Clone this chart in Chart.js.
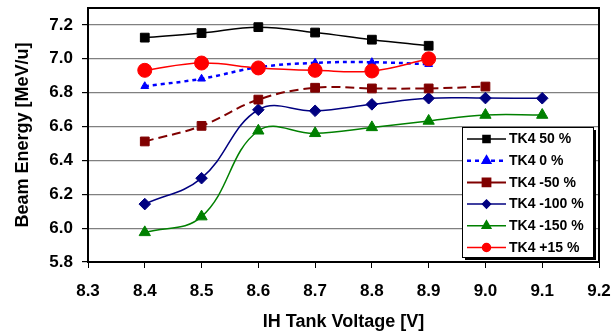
<!DOCTYPE html>
<html>
<head>
<meta charset="utf-8">
<script src="https://cdn.jsdelivr.net/npm/chart.js@4/dist/chart.umd.min.js"></script>
<style>
html,body{margin:0;padding:0;background:#fff;}
#wrap{width:613px;height:335px;position:relative;}
</style>
</head>
<body>
<div id="wrap"><canvas id="c" width="613" height="335"></canvas></div>
<script>
// ---- data ----
const X_VALUES = [8.4, 8.5, 8.6, 8.7, 8.8, 8.9, 9.0, 9.1];
const X_TICKS = [8.3, 8.4, 8.5, 8.6, 8.7, 8.8, 8.9, 9.0, 9.1, 9.2];
const Y_TICKS = [5.8, 6.0, 6.2, 6.4, 6.6, 6.8, 7.0, 7.2];
const SERIES_NAMES = ['TK4 50 %', 'TK4 0 %', 'TK4 -50 %', 'TK4 -100 %', 'TK4 -150 %', 'TK4 +15 %'];
const TK4_P50  = [7.125, 7.152, 7.187, 7.155, 7.113, 7.077];
const TK4_0    = [6.838, 6.882, 6.950, 6.976, 6.980, 6.968];
const TK4_M50  = [6.512, 6.604, 6.759, 6.829, 6.825, 6.825, 6.836];
const TK4_M100 = [6.142, 6.295, 6.699, 6.693, 6.731, 6.767, 6.768, 6.767];
const TK4_M150 = [5.975, 6.068, 6.575, 6.560, 6.595, 6.633, 6.668, 6.668];
const TK4_P15  = [6.932, 6.975, 6.946, 6.932, 6.928, 7.000];
const X_TITLE = 'IH Tank Voltage [V]';
const Y_TITLE = 'Beam Energy [MeV/u]';

function pts(ys){ return ys.map((y,i)=>({x:X_VALUES[i], y:y})); }

const FONT = "'Liberation Sans', Arial, sans-serif";

const styles = [
  {color:'#000000', style:'rect',     r:6.2, lr:5,   dash:[],    ldash:[],    w:1.5, order:2},
  {color:'#0000FF', style:'triangle', r:4.5, lr:4,   dash:[4,4], ldash:[4,4], w:2.5, order:1},
  {color:'#800000', style:'rect',     r:6.2, lr:5.5, dash:[9,5], ldash:[],    w:2,   order:3},
  {color:'#000080', style:'rectRot',  r:5.8, lr:4,   dash:[],    ldash:[],    w:1.5, order:4},
  {color:'#008000', style:'triangle', r:6.5, lr:5,   dash:[],    ldash:[],    w:1.5, order:5},
  {color:'#FF0000', style:'circle',   r:7,   lr:4,   dash:[],    ldash:[],    w:1.5, order:0}
];
const allData = [TK4_P50, TK4_0, TK4_M50, TK4_M100, TK4_M150, TK4_P15];

const datasets = allData.map((d,i)=>{
  const s = styles[i];
  return {
    label: SERIES_NAMES[i],
    data: pts(d),
    borderColor: s.color,
    backgroundColor: s.color,
    pointBackgroundColor: s.color,
    pointBorderColor: s.color,
    pointStyle: s.style,
    pointRadius: s.r,
    pointHoverRadius: s.r,
    pointBorderWidth: 1,
    borderWidth: s.w,
    borderDash: s.dash,
    tension: 0.4,
    fill: false,
    order: s.order,
    legendRadius: s.lr,
    legendDash: s.ldash
  };
});

const framePlugin = {
  id: 'frame',
  afterDatasetsDraw(chart){
    const {ctx, chartArea:a} = chart;
    ctx.save();
    ctx.strokeStyle = '#000';
    ctx.lineWidth = 2;
    ctx.beginPath();
    ctx.moveTo(a.left, a.top);
    ctx.lineTo(a.right, a.top);
    ctx.lineTo(a.right, a.bottom);
    ctx.stroke();
    ctx.restore();
  }
};

const LEG = {left:462, top:127, width:131, height:130, rowTop:139, rowStep:21.7, lineX0:467, lineX1:506, textX:509};
const legendPlugin = {
  id: 'customLegend',
  afterDraw(chart){
    const ctx = chart.ctx;
    ctx.save();
    ctx.fillStyle = '#000';
    ctx.fillRect(LEG.left+3, LEG.top+3, LEG.width, LEG.height);
    ctx.fillStyle = '#fff';
    ctx.fillRect(LEG.left, LEG.top, LEG.width, LEG.height);
    ctx.strokeStyle = '#000';
    ctx.lineWidth = 1;
    ctx.strokeRect(LEG.left+0.5, LEG.top+0.5, LEG.width, LEG.height);
    chart.data.datasets.forEach((ds,i)=>{
      const y = LEG.rowTop + i*LEG.rowStep;
      ctx.strokeStyle = ds.borderColor;
      ctx.lineWidth = ds.borderWidth;
      ctx.setLineDash(ds.legendDash);
      ctx.beginPath();
      ctx.moveTo(LEG.lineX0, y);
      ctx.lineTo(LEG.lineX1, y);
      ctx.stroke();
      ctx.setLineDash([]);
      ctx.fillStyle = ds.backgroundColor;
      Chart.helpers.drawPoint(ctx, {pointStyle: ds.pointStyle, radius: ds.legendRadius, rotation: 0, borderWidth: 1}, (LEG.lineX0+LEG.lineX1)/2, y);
      ctx.fillStyle = '#000';
      ctx.font = 'bold 14px ' + FONT;
      ctx.textBaseline = 'middle';
      ctx.textAlign = 'left';
      ctx.fillText(ds.label, LEG.textX, y+0.5);
    });
    ctx.restore();
  }
};

new Chart(document.getElementById('c'), {
  type: 'line',
  data: {datasets},
  options: {
    responsive: false,
    animation: false,
    events: [],
    layout: {padding: {left:0, right:14, top:7, bottom:0}},
    plugins: {legend:{display:false}, tooltip:{enabled:false}},
    scales: {
      x: {
        type: 'linear',
        min: 8.3, max: 9.2,
        afterBuildTicks: s => { s.ticks = X_TICKS.map(v=>({value:v})); },
        afterFit: s => { s.height = 73; s.paddingLeft = 0; s.paddingRight = 0; },
        ticks: {
          callback: v => Number(v).toFixed(1),
          color: '#000',
          font: {family: FONT, size: 17, weight: 'bold'},
          padding: 13,
          maxRotation: 0, autoSkip: false
        },
        grid: {display: true, drawOnChartArea: false, tickLength: 6, color: '#000', tickColor: '#000', tickWidth: 1},
        border: {display: true, color: '#000', width: 2},
        title: {display: true, text: X_TITLE, color: '#000', font: {family: FONT, size: 18, weight: 'bold'}, padding: {top: 2, bottom: 2}}
      },
      y: {
        type: 'linear',
        min: 5.8, max: 7.3,
        afterBuildTicks: s => { s.ticks = Y_TICKS.map(v=>({value:v})); },
        afterFit: s => { s.width = 88; s.paddingTop = 0; s.paddingBottom = 0; },
        ticks: {
          callback: v => Number(v).toFixed(1),
          color: '#000',
          font: {family: FONT, size: 17, weight: 'bold'},
          padding: 9
        },
        grid: {
          color: c => (c.tick && Math.abs(c.tick.value - 5.8) < 1e-6) ? 'rgba(0,0,0,0)' : '#808080',
          lineWidth: 1.2,
          tickLength: 6,
          tickColor: '#000'
        },
        border: {display: true, color: '#000', width: 2},
        title: {display: true, text: Y_TITLE, color: '#000', font: {family: FONT, size: 18, weight: 'bold'}, padding: {top: 12, bottom: 12}}
      }
    }
  },
  plugins: [framePlugin, legendPlugin]
});
</script>
</body>
</html>
